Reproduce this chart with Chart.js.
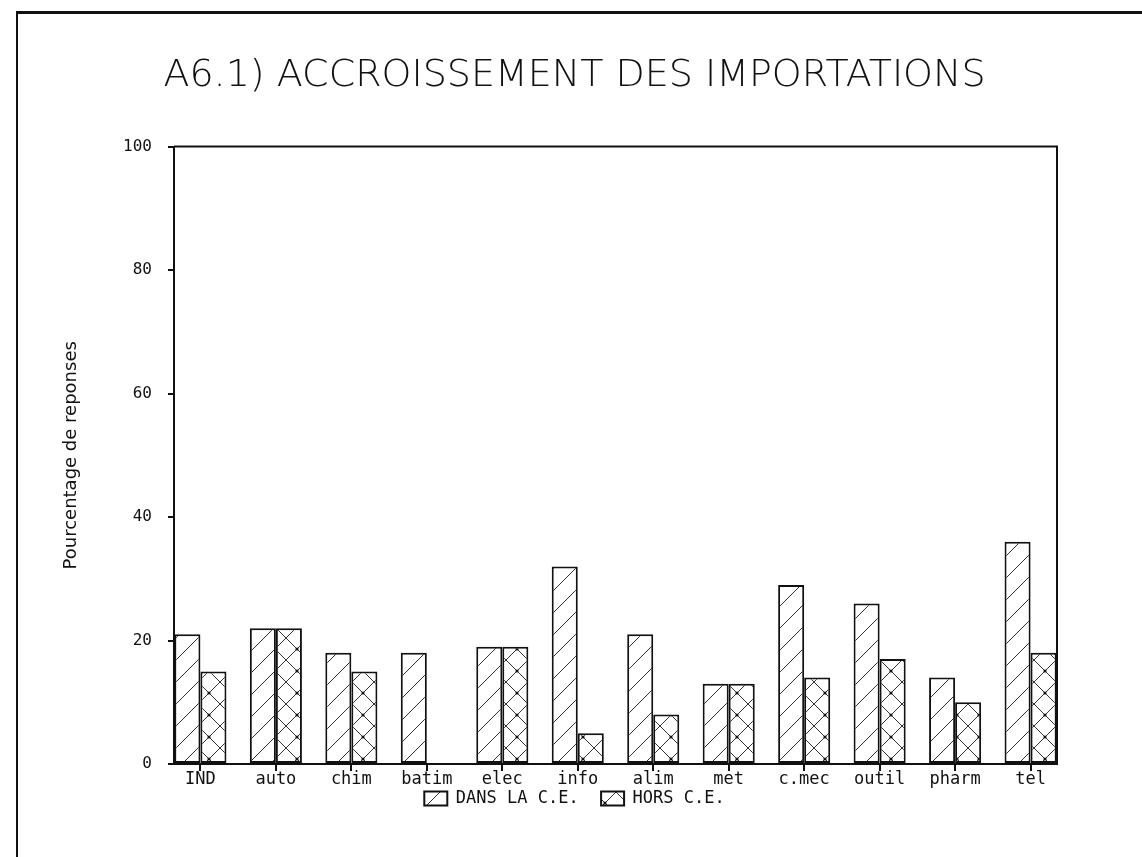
<!DOCTYPE html>
<html>
<head>
<meta charset="utf-8">
<title>A6.1) Accroissement des importations</title>
<script src="https://cdn.jsdelivr.net/npm/chart.js@4.4.1/dist/chart.umd.min.js"></script>
<style>
    html, body { margin: 0; padding: 0; background: #fff; overflow: hidden; }
    #wrap { position: relative; width: 1142px; height: 857px; }
    #frame {
        position: absolute; left: 16px; top: 11px; right: -10px; bottom: -10px;
        border-top: 3px solid #111; border-left: 2px solid #111; pointer-events: none;
    }
    canvas { position: absolute; left: 0; top: 0; }
</style>
</head>
<body>
<div id="wrap">
    <canvas id="importChart" width="1142" height="857"></canvas>
    <div id="frame"></div>
</div>
<script>
// Data
const categories = ['IND', 'auto', 'chim', 'batim', 'elec', 'info', 'alim', 'met', 'c.mec', 'outil', 'pharm', 'tel'];
const dansCE = [21, 22, 18, 18, 19, 32, 21, 13, 29, 26, 14, 36];
const horsCE = [15, 22, 15, 0, 19, 5, 8, 13, 14, 17, 10, 18];
const yTicks = [0, 20, 40, 60, 80, 100];
const seriesNames = ['DANS LA C.E.', 'HORS C.E.'];

const INK = '#111';

// Hatch fills like the old plotter output
function makeHatch(cross) {
    const s = 22;
    const c = document.createElement('canvas');
    c.width = s; c.height = s;
    const g = c.getContext('2d');
    g.fillStyle = '#fff';
    g.fillRect(0, 0, s, s);
    g.strokeStyle = '#333';
    g.lineWidth = 1;
    g.beginPath();
    g.moveTo(-2, s + 2); g.lineTo(s + 2, -2);
    if (cross) {
        g.moveTo(-2, -2); g.lineTo(s + 2, s + 2);
    }
    g.stroke();
    if (cross) {
        g.fillStyle = INK;
        g.beginPath();
        g.arc(s / 2, s / 2, 1.6, 0, Math.PI * 2);
        g.fill();
    }
    return g.createPattern(c, 'repeat');
}

const ctx = document.getElementById('importChart').getContext('2d');

// Closes the plot frame on top and right
const plotBox = {
    id: 'plotBox',
    afterDraw(chart) {
        const a = chart.chartArea;
        const c = chart.ctx;
        c.save();
        c.strokeStyle = INK;
        c.lineWidth = 2;
        c.beginPath();
        c.moveTo(a.left, a.top);
        c.lineTo(a.right, a.top);
        c.lineTo(a.right, a.bottom);
        c.stroke();
        c.restore();
    }
};

const PAD_LEFT = 92;
const PLOT_LEFT = 174;

new Chart(ctx, {
    type: 'bar',
    data: {
        datasets: [
            {
                label: seriesNames[0],
                data: dansCE.map((v, i) => ({ x: i, y: v })),
                backgroundColor: makeHatch(false),
                borderColor: INK,
                borderWidth: 2,
                borderSkipped: false,
            },
            {
                label: seriesNames[1],
                data: horsCE.map((v, i) => ({ x: i, y: v })),
                backgroundColor: makeHatch(true),
                borderColor: INK,
                borderWidth: 2,
                borderSkipped: false,
            },
        ],
    },
    options: {
        responsive: false,
        devicePixelRatio: 1,
        animation: false,
        categoryPercentage: 0.69,
        barPercentage: 1.0,
        layout: {
            padding: { left: PAD_LEFT, right: 85, top: 0, bottom: 40 },
        },
        plugins: {
            title: {
                display: true,
                text: 'A6.1) ACCROISSEMENT DES IMPORTATIONS',
                color: INK,
                font: { family: 'DejaVu Sans', size: 38, weight: '200' },
                padding: { top: 53, bottom: 48 },
            },
            legend: {
                display: true,
                position: 'bottom',
                labels: {
                    color: INK,
                    font: { family: 'DejaVu Sans Mono', size: 17 },
                    boxWidth: 23,
                    boxHeight: 14,
                    padding: 2,
                    // widen the gap between the two entries without growing the legend height
                    generateLabels: (chart) => {
                        const items = Chart.defaults.plugins.legend.labels.generateLabels(chart);
                        return items.map((it, i) => {
                            if (i < items.length - 1) it.text = it.text + '  ';
                            return it;
                        });
                    },
                },
            },
            tooltip: { enabled: false },
        },
        scales: {
            x: {
                type: 'linear',
                min: -0.35,
                max: 11.35,
                offset: false,
                ticks: {
                    stepSize: 1,
                    includeBounds: false,
                    autoSkip: false,
                    maxRotation: 0,
                    color: INK,
                    padding: 0,
                    font: { family: 'DejaVu Sans Mono', size: 17, lineHeight: 1.0 },
                    callback: (v) => categories[v] ?? '',
                },
                grid: {
                    offset: false,
                    drawOnChartArea: false,
                    drawTicks: true,
                    tickLength: 7,
                    color: INK,
                    lineWidth: 2,
                },
                border: { color: INK, width: 2 },
            },
            y: {
                min: 0,
                max: 100,
                afterBuildTicks: (scale) => {
                    scale.ticks = yTicks.map(v => ({ value: v }));
                },
                afterFit: (scale) => {
                    scale.width = PLOT_LEFT - PAD_LEFT;
                },
                ticks: {
                    color: INK,
                    padding: 16,
                    font: { family: 'DejaVu Sans Mono', size: 16 },
                },
                grid: {
                    drawOnChartArea: false,
                    drawTicks: true,
                    tickLength: 6,
                    color: INK,
                    lineWidth: 2,
                },
                border: { color: INK, width: 2 },
                title: {
                    display: true,
                    text: 'Pourcentage de reponses',
                    color: INK,
                    font: { family: 'DejaVu Sans', size: 18 },
                    padding: { top: -31, bottom: 0 },
                },
            },
        },
    },
    plugins: [plotBox],
});
</script>
</body>
</html>
